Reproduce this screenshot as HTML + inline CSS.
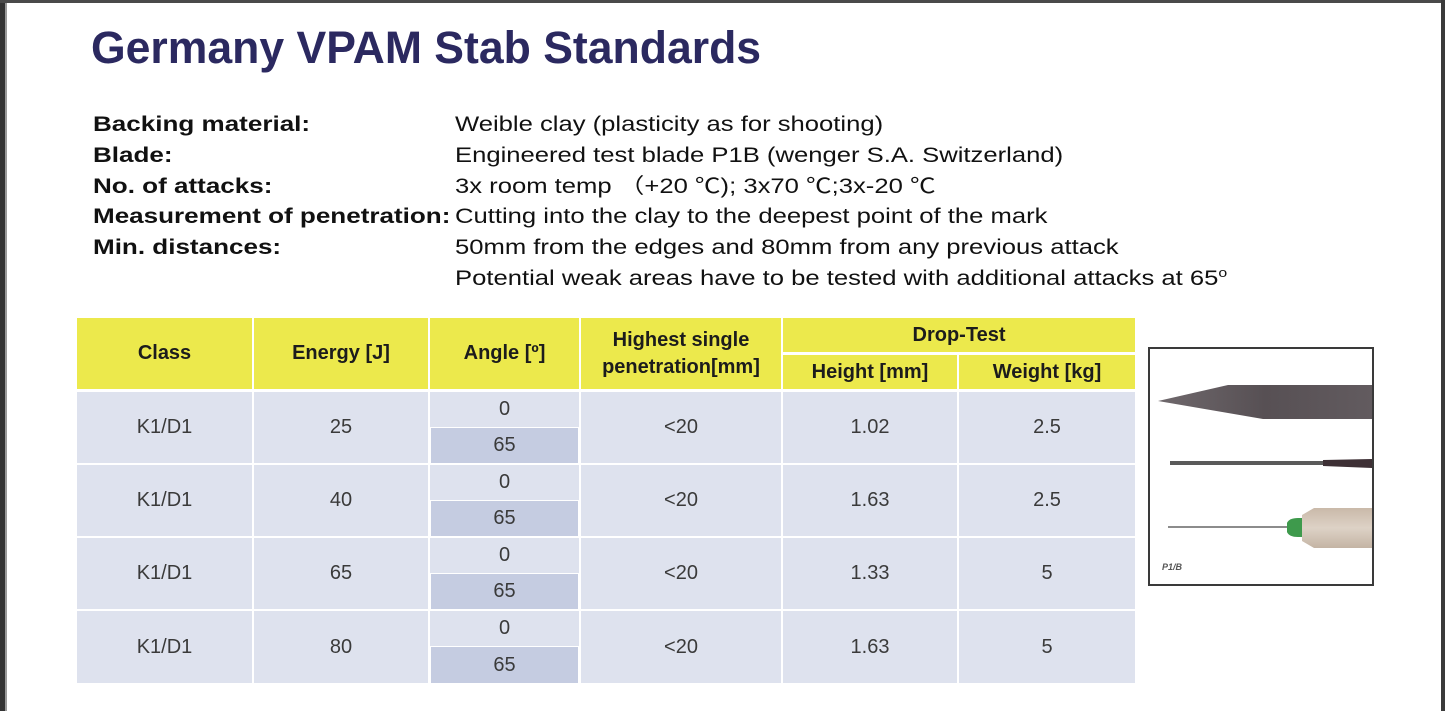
<!DOCTYPE html>
<html>
<head>
<meta charset="utf-8">
<style>
  html,body{margin:0;padding:0;}
  body{width:1445px;height:711px;position:relative;overflow:hidden;background:#ffffff;
       font-family:"Liberation Sans","Noto Sans CJK SC",sans-serif;}
  .abs{position:absolute;}
  .bl{left:0;top:0;width:5px;height:711px;background:#333333;}
  .bl2{left:5px;top:0;width:2px;height:711px;background:#9a9a9a;}
  .bt{left:0;top:0;width:1445px;height:3px;background:#4a4a4a;}
  .br{left:1441px;top:0;width:4px;height:711px;background:#3a3a3a;}
  .title{left:91px;top:25px;font-size:45px;line-height:45px;font-weight:bold;color:#2b2960;
         white-space:nowrap;transform:scaleX(0.99);transform-origin:left top;}
  .txt{font-size:21px;line-height:30.8px;white-space:nowrap;color:#111;
       transform:scaleX(1.22);transform-origin:left top;}
  .lab{left:93px;top:110px;font-weight:bold;transform:scaleX(1.24);}
  .val{left:455px;top:110px;}
  .c{position:absolute;display:flex;align-items:center;justify-content:center;text-align:center;}
  .h{background:#ece94c;color:#1c1c1c;font-weight:bold;font-size:20px;line-height:27px;}
  .b{background:#dee2ee;color:#3a3a3a;font-size:20px;}
  .d{background:#c5cce1;color:#3a3a3a;font-size:20px;}
  .sp{font-size:13px;position:relative;top:-8px;line-height:0;}
</style>
</head>
<body>
<div class="abs bl"></div>
<div class="abs bl2"></div>
<div class="abs bt"></div>
<div class="abs br"></div>

<div class="abs title">Germany VPAM Stab Standards</div>

<div class="abs txt lab">Backing material:<br>Blade:<br>No. of attacks:<br>Measurement of penetration:<br>Min. distances:</div>
<div class="abs txt val">Weible clay (plasticity as for shooting)<br>Engineered test blade P1B (wenger S.A. Switzerland)<br>3x room temp （+20 ℃); 3x70 ℃;3x-20 ℃<br>Cutting into the clay to the deepest point of the mark<br>50mm from the edges and 80mm from any previous attack<br>Potential weak areas have to be tested with additional attacks at 65<span class="sp">o</span></div>

<!-- header -->
<div class="c h" style="left:77px;top:318px;width:175px;height:71px;">Class</div>
<div class="c h" style="left:254px;top:318px;width:174px;height:71px;">Energy [J]</div>
<div class="c h" style="left:430px;top:318px;width:149px;height:71px;">Angle [º]</div>
<div class="c h" style="left:581px;top:318px;width:200px;height:71px;">Highest single<br>penetration[mm]</div>
<div class="c h" style="left:783px;top:318px;width:352px;height:34px;">Drop-Test</div>
<div class="c h" style="left:783px;top:355px;width:174px;height:34px;">Height [mm]</div>
<div class="c h" style="left:959px;top:355px;width:176px;height:34px;">Weight [kg]</div>

<!-- row 1 -->
<div class="c b" style="left:77px;top:392px;width:175px;height:71px;">K1/D1</div>
<div class="c b" style="left:254px;top:392px;width:174px;height:71px;">25</div>
<div class="c b" style="left:430px;top:392px;width:149px;height:35px;">0</div>
<div class="c d" style="left:431px;top:428px;width:147px;height:35px;">65</div>
<div class="c b" style="left:581px;top:392px;width:200px;height:71px;">&lt;20</div>
<div class="c b" style="left:783px;top:392px;width:174px;height:71px;">1.02</div>
<div class="c b" style="left:959px;top:392px;width:176px;height:71px;">2.5</div>

<!-- row 2 -->
<div class="c b" style="left:77px;top:465px;width:175px;height:71px;">K1/D1</div>
<div class="c b" style="left:254px;top:465px;width:174px;height:71px;">40</div>
<div class="c b" style="left:430px;top:465px;width:149px;height:35px;">0</div>
<div class="c d" style="left:431px;top:501px;width:147px;height:35px;">65</div>
<div class="c b" style="left:581px;top:465px;width:200px;height:71px;">&lt;20</div>
<div class="c b" style="left:783px;top:465px;width:174px;height:71px;">1.63</div>
<div class="c b" style="left:959px;top:465px;width:176px;height:71px;">2.5</div>

<!-- row 3 -->
<div class="c b" style="left:77px;top:538px;width:175px;height:71px;">K1/D1</div>
<div class="c b" style="left:254px;top:538px;width:174px;height:71px;">65</div>
<div class="c b" style="left:430px;top:538px;width:149px;height:35px;">0</div>
<div class="c d" style="left:431px;top:574px;width:147px;height:35px;">65</div>
<div class="c b" style="left:581px;top:538px;width:200px;height:71px;">&lt;20</div>
<div class="c b" style="left:783px;top:538px;width:174px;height:71px;">1.33</div>
<div class="c b" style="left:959px;top:538px;width:176px;height:71px;">5</div>

<!-- row 4 -->
<div class="c b" style="left:77px;top:611px;width:175px;height:72px;">K1/D1</div>
<div class="c b" style="left:254px;top:611px;width:174px;height:72px;">80</div>
<div class="c b" style="left:430px;top:611px;width:149px;height:35px;">0</div>
<div class="c d" style="left:431px;top:647px;width:147px;height:36px;">65</div>
<div class="c b" style="left:581px;top:611px;width:200px;height:72px;">&lt;20</div>
<div class="c b" style="left:783px;top:611px;width:174px;height:72px;">1.63</div>
<div class="c b" style="left:959px;top:611px;width:176px;height:72px;">5</div>

<!-- blade image -->
<svg class="abs" style="left:1148px;top:347px;" width="226" height="239" viewBox="0 0 226 239">
  <defs>
    <linearGradient id="bg1" x1="0" y1="0" x2="1" y2="0">
      <stop offset="0" stop-color="#6f686c"/>
      <stop offset="0.5" stop-color="#575054"/>
      <stop offset="1" stop-color="#625b5f"/>
    </linearGradient>
    <linearGradient id="hub" x1="0" y1="0" x2="0" y2="1">
      <stop offset="0" stop-color="#c9b9a9"/>
      <stop offset="0.5" stop-color="#ddd2c6"/>
      <stop offset="1" stop-color="#c4b4a4"/>
    </linearGradient>
  </defs>
  <rect x="1" y="1" width="224" height="237" fill="#ffffff" stroke="#3a3a3a" stroke-width="2"/>
  <polygon points="10,54 80,38 224,38 224,72 115,72" fill="url(#bg1)"/>
  <rect x="22" y="114" width="170" height="4" fill="#5a5a5a"/>
  <polygon points="175,113 224,112 224,121 175,119" fill="#3e3035"/>
  <rect x="20" y="179" width="125" height="2" fill="#8c8c8c"/>
  <path d="M139,176 Q141,171 150,171 L162,171 L162,190 L150,190 Q141,190 139,185 Z" fill="#3e9a4c"/>
  <polygon points="154,168 166,161 224,161 224,201 166,201 154,194" fill="url(#hub)"/>
  <text x="14" y="223" font-family="Liberation Sans, sans-serif" font-size="9" font-weight="bold" font-style="italic" fill="#555">P1/B</text>
</svg>
</body>
</html>
